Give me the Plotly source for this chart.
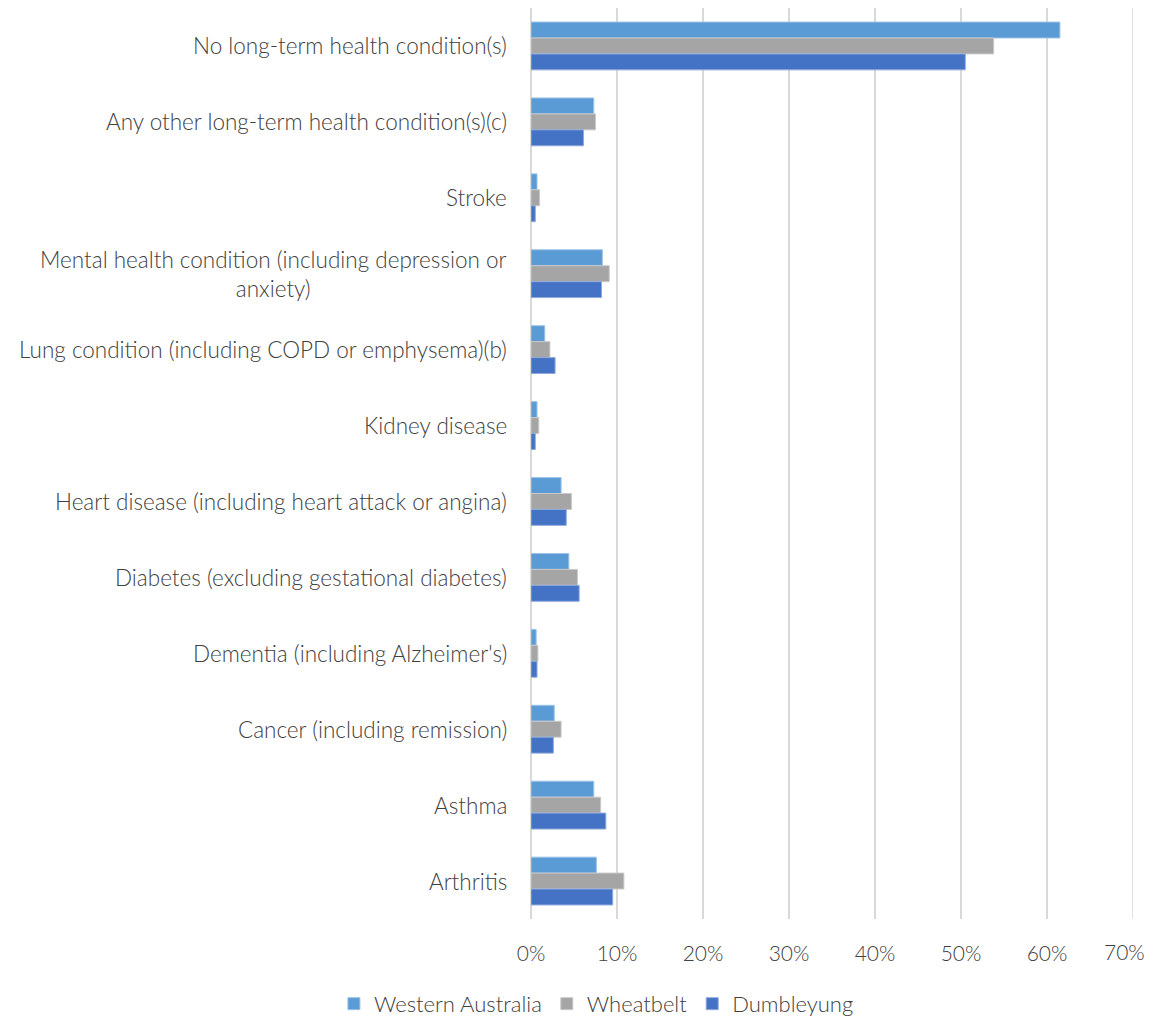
import plotly.graph_objects as go

categories = [
    "No long-term health condition(s)",
    "Any other long-term health condition(s)(c)",
    "Stroke",
    "Mental health condition (including depression or<br>anxiety)",
    "Lung condition (including COPD or emphysema)(b)",
    "Kidney disease",
    "Heart disease (including heart attack or angina)",
    "Diabetes (excluding gestational diabetes)",
    "Dementia (including Alzheimer's)",
    "Cancer (including remission)",
    "Asthma",
    "Arthritis",
]
western_australia = [61.5, 7.3, 0.7, 8.3, 1.6, 0.7, 3.5, 4.4, 0.6, 2.7, 7.3, 7.6]
wheatbelt = [53.8, 7.5, 1.0, 9.1, 2.2, 0.9, 4.7, 5.4, 0.8, 3.5, 8.1, 10.8]
dumbleyung = [50.5, 6.1, 0.5, 8.2, 2.8, 0.5, 4.1, 5.6, 0.7, 2.6, 8.7, 9.5]
tick_values = [0, 10, 20, 30, 40, 50, 60, 70]
tick_labels = ["0%", "10%", "20%", "30%", "40%", "50%", "60%", "70%"]

series = [
    ("Western Australia", western_australia, "#5B9BD5", "#9CC3E6"),
    ("Wheatbelt", wheatbelt, "#A5A5A5", "#C9C9C9"),
    ("Dumbleyung", dumbleyung, "#4472C4", "#8FAADC"),
]

FONT = "Lato"
TXT = "#404040"

fig = go.Figure()
for name, vals, col, edge in series:
    fig.add_trace(go.Bar(
        name=name,
        y=categories,
        x=vals,
        orientation="h",
        marker=dict(color=col, line=dict(color=edge, width=1)),
    ))

for cat in categories:
    fig.add_annotation(
        x=0, xref="paper", y=cat, yref="y",
        text=cat, showarrow=False, xanchor="right", align="center",
        xshift=-22, font=dict(family=FONT, size=22.5, color=TXT, weight=300),
    )

# last tick label sits at the page edge: keep it inside the visible area
fig.add_annotation(
    x=tick_values[-1], xref="x", y=0, yref="paper",
    text=tick_labels[-1], showarrow=False, xanchor="right", yanchor="top",
    xshift=14, yshift=-17.5,
    font=dict(family=FONT, size=21, color=TXT, weight=300),
)

fig.update_layout(
    width=1147, height=1010,
    margin=dict(l=523, r=22, t=0, b=99),
    paper_bgcolor="white", plot_bgcolor="white",
    barmode="group", bargap=0.37, bargroupgap=0,
    font=dict(family=FONT, size=21, color=TXT, weight=300),
    showlegend=True,
    legend=dict(
        orientation="h", xref="container", yref="container",
        x=0.513, y=0.014, xanchor="center", yanchor="middle",
        font=dict(family=FONT, size=22, color=TXT, weight=300),
        itemwidth=30, traceorder="normal",
    ),
    xaxis=dict(
        range=[tick_values[0], tick_values[-1]],
        tickmode="array", tickvals=tick_values[:-1], ticktext=tick_labels[:-1],
        showgrid=True, gridcolor="#D9D9D9", gridwidth=1.5,
        zeroline=True, zerolinecolor="#D9D9D9", zerolinewidth=1.5,
        showline=False, ticks="", ticklabelstandoff=20,
        tickfont=dict(family=FONT, size=21, color=TXT, weight=300),
        fixedrange=True,
    ),
    yaxis=dict(
        autorange="reversed", showticklabels=False, showgrid=False,
        zeroline=False, showline=False, ticks="",
    ),
    shapes=[
        dict(type="line", xref="x", yref="paper", x0=tick_values[-1], x1=tick_values[-1],
             y0=0, y1=1, line=dict(color="#D9D9D9", width=1.5), layer="below"),
    ],
)

fig.write_html("out.html")
